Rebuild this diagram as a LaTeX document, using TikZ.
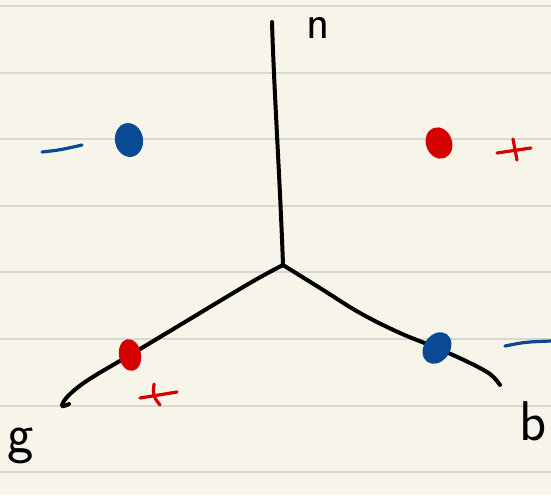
\documentclass[tikz,border=0pt]{standalone}
\usepackage{tikz}
\usepackage{xcolor}

\definecolor{paper}{HTML}{F7F5EA}
\definecolor{rule}{HTML}{D8D8D4}
\definecolor{penblue}{HTML}{0A4A94}
\definecolor{penred}{HTML}{D40000}

\tikzset{
  wire/.style={line width=2pt, black, line cap=round, line join=round},
  stroke/.style={line width=1.6pt, line cap=round},
  letter/.style={font=\sffamily\fontsize{28}{28}\selectfont, inner sep=0pt}
}

\begin{document}
\begin{tikzpicture}[x=0.5pt, y=-0.5pt]
  % Paper
  \useasboundingbox[fill=paper] (0,0) rectangle (551,495);
  \foreach \y in {6,73,139,206,272,339,406,472}
    \draw[line width=1pt, rule] (0,\y) -- (551,\y);

  % Junction and free ends
  \coordinate (c)  at (283,265);
  \coordinate (nt) at (272,22);
  \coordinate (gt) at (62,407);
  \coordinate (bt) at (500,385);

  % Labels
  \node[letter, font=\sffamily\fontsize{24}{24}\selectfont, anchor=base] (nlbl) at (318,38) {n};
  \node[letter, anchor=base] (glbl) at (21,452) {g};
  \node[letter, anchor=base west] (blbl) at (519,440) {b};

  % Arms
  \draw[wire] (c) .. controls (280,180) and (274,90) .. (nt);
  \draw[wire] plot[smooth, tension=0.6] coordinates
        {(c) (250,283) (180,325) (130,355) (88,380) (68,396) (62,406) (69,404)};
  \draw[wire] plot[smooth, tension=0.6] coordinates
        {(c) (320,288) (360,313) (400,333) (437,348) (468,362) (490,374) (bt)};

  % Charges
  \fill[penblue, rotate around={10:(129,140)}] (129,140) ellipse (14 and 17); % upper left
  \fill[penred,  rotate around={20:(439,143)}] (439,143) ellipse (13 and 16); % upper right
  \fill[penred,  rotate around={10:(130,355)}] (130,355) ellipse (11 and 16); % on g
  \fill[penblue, rotate around={-35:(437,348)}] (437,348) ellipse (13 and 17); % on b

  % Signs
  \draw[stroke, penblue] (42,152) .. controls (60,150) .. (82,145);
  \draw[stroke, penblue] (505,346) .. controls (525,342) .. (551,341);
  \draw[stroke, penred] (497,153) -- (531,148);
  \draw[stroke, penred] (513,139) .. controls (515,150) .. (517,160);
  \draw[stroke, penred] (140,398) -- (177,392);
  \draw[stroke, penred] (154,384) .. controls (153,396) .. (160,405);
\end{tikzpicture}
\end{document}
